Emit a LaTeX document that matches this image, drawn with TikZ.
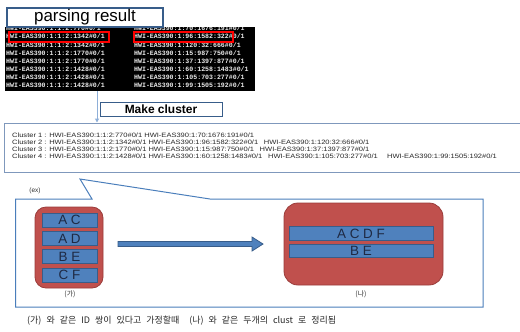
\documentclass[tikz,border=0pt]{standalone}
\usepackage{fontspec}
\setmainfont{Liberation Sans}
\newfontfamily\krfont{Noto Sans CJK KR}
\newfontfamily\monofont{Liberation Mono}
\usetikzlibrary{arrows.meta}
\definecolor{bordblue}{HTML}{385D8A}
\definecolor{lineblue}{HTML}{4A7EBB}
\definecolor{paleblue}{HTML}{8EAFD8}
\definecolor{clgray}{HTML}{7F98BC}
\definecolor{redfill}{HTML}{C0504D}
\definecolor{redbord}{HTML}{9A3C3A}
\definecolor{barfill}{HTML}{4F81BD}
\definecolor{bartext}{HTML}{1F2A44}
\tikzset{
  titlebox/.style={draw=bordblue, line width=1.2bp, fill=white, inner sep=0pt},
  screen/.style={fill=black, inner sep=0pt},
  scrtext/.style={text=black!8, font=\monofont\bfseries\fontsize{6.6}{7}\selectfont, anchor=west, inner sep=0pt},
  hilite/.style={draw=red, line width=1.1bp},
  clbox/.style={draw=clgray, line width=1bp, fill=white, inner sep=0pt},
  cltext/.style={font=\fontsize{6.3}{7}\selectfont, text=black!85, anchor=west, inner sep=0pt},
  group/.style={draw=redbord, fill=redfill, line width=0.8bp, rounded corners=11bp, inner sep=0pt},
  bar/.style={draw=bordblue, fill=barfill, line width=0.8bp, inner sep=0pt, text=bartext, font=\fontsize{13.5}{13.5}\selectfont},
  conn/.style={draw=paleblue, line width=1bp, -{Triangle[length=4bp,width=4bp]}},
  small/.style={font=\krfont\fontsize{7}{8}\selectfont, text=black!80, inner sep=0pt},
}
\begin{document}
\begin{tikzpicture}[x=1bp,y=-1bp]
\useasboundingbox (0,0) rectangle (520,331);
\clip (0,0) rectangle (520,331);
\fill[white] (0,0) rectangle (520,331);

% screenshot
\node[screen, minimum width=250bp, minimum height=64bp] (scr) at (130,59) {};
\begin{scope}
\clip (5,27) rectangle (255,91);
\foreach \t [count=\i from 0] in {770,1342,1342,1770,1770,1428,1428,1428}
  \node[scrtext] (l\i) at (6,{28.5+8.1*\i}) {HWI-EAS390:1:1:2:\t\#0/1};
\foreach \t [count=\i from 0] in {70:1676:191,96:1582:322,120:32:666,15:987:750,37:1397:877,60:1258:1483,105:703:277,99:1505:192}
  \node[scrtext] (r\i) at (134,{28.5+8.1*\i}) {HWI-EAS390:1:\t\#0/1};
\end{scope}
\draw[hilite] (9,32) rectangle (109,42);
\draw[hilite] (134,32) rectangle (233,42);

% parsing result title
\node[titlebox, minimum width=156bp, minimum height=19bp, font=\fontsize{17}{17}\selectfont] (pr) at (85,17.5) {parsing result};

% cluster box
\node[clbox, minimum width=535bp, minimum height=49bp] (cb) at (272.5,147.5) {};
\draw[conn] (scr.south -| 97,0) -- (cb.north -| 97,0);
\node[titlebox, line width=1bp, minimum width=122bp, minimum height=14bp, font=\bfseries\fontsize{12}{12}\selectfont] (mk) at (161,109) {Make cluster};

\node[cltext] (c1) at (12,135) {\scalebox{1.2}[1]{Cluster 1 : HWI-EAS390:1:1:2:770\#0/1 HWI-EAS390:1:70:1676:191\#0/1}};
\node[cltext] (c2) at (12,142) {\scalebox{1.2}[1]{Cluster 2 : HWI-EAS390:1:1:2:1342\#0/1 HWI-EAS390:1:96:1582:322\#0/1\hspace{3bp} HWI-EAS390:1:120:32:666\#0/1}};
\node[cltext] (c3) at (12,149) {\scalebox{1.2}[1]{Cluster 3 : HWI-EAS390:1:1:2:1770\#0/1 HWI-EAS390:1:15:987:750\#0/1\hspace{3bp} HWI-EAS390:1:37:1397:877\#0/1}};
\node[cltext] (c4) at (12,156) {\scalebox{1.2}[1]{Cluster 4 : HWI-EAS390:1:1:2:1428\#0/1 HWI-EAS390:1:60:1258:1483\#0/1\hspace{3bp} HWI-EAS390:1:105:703:277\#0/1\hspace{6bp} HWI-EAS390:1:99:1505:192\#0/1}};

% example callout box
\draw[draw=lineblue, line width=1bp, fill=white] (15.7,199) -- (92,199) -- (80,179) -- (210,199) -- (483,199) -- (483,307) -- (15.7,307) -- cycle;
\node[small, font=\fontsize{6.5}{7}\selectfont] (ex) at (35,191) {(ex)};

% left group
\node[group, minimum width=68bp, minimum height=81bp] (ga) at (69,247.5) {};
\node[bar, minimum width=55bp, minimum height=14bp] (b1) at (69.5,220) {A C};
\node[bar, minimum width=55bp, minimum height=14bp] (b2) at (69.5,238.5) {A D};
\node[bar, minimum width=55bp, minimum height=14bp] (b3) at (69.5,256.5) {B E};
\node[bar, minimum width=55bp, minimum height=14bp] (b4) at (69.5,275) {C F};
\node[small] (la) at (70,294) {(가)};

% right group
\node[group, rounded corners=14bp, minimum width=159bp, minimum height=82bp] (gb) at (363.5,244) {};
\node[bar, minimum width=144bp, minimum height=13.5bp] (b5) at (361,233.5) {A C D F};
\node[bar, minimum width=144bp, minimum height=13.5bp] (b6) at (361,251) {B E};
\node[small] (lb) at (361,294) {(나)};

% block arrow
\path[draw=bordblue, fill=barfill, line width=0.8bp]
  (118,241.5) -- (252,241.5) -- (252,237) -- (263,244) -- (252,251) -- (252,246.5) -- (118,246.5) -- cycle;

% caption
\node[small, anchor=west, text=black!85, font=\krfont\fontsize{9}{10}\selectfont] (cap) at (27,321) {\spaceskip=5bp (가) 와 같은 ID 쌍이 있다고 가정할때\hspace{10bp}(나) 와 같은 두개의 clust 로 정리됨};
\end{tikzpicture}
\end{document}
